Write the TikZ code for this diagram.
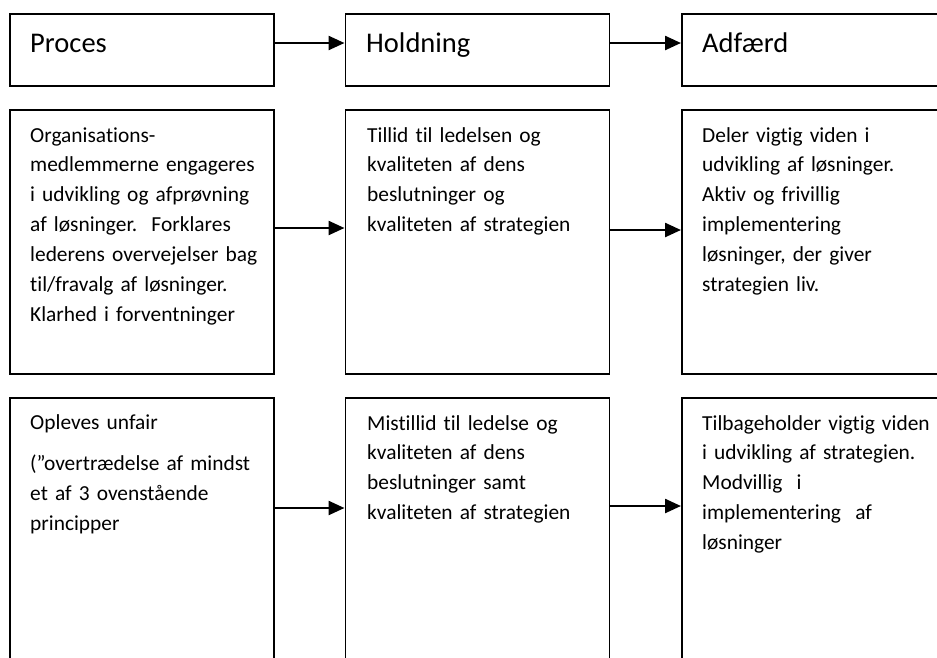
\documentclass[tikz,border=0pt]{standalone}
\usepackage{fontspec}
\setmainfont{Carlito}[Ligatures={NoCommon}, WordSpace=0.85]
\usetikzlibrary{arrows.meta}
\frenchspacing
\tikzset{
  box/.style={draw=black, line width=1.8pt, rectangle, inner sep=0pt, anchor=north west},
  hbox/.style={box, minimum width=264pt, minimum height=72pt},
  bbox/.style={box, minimum width=264pt, minimum height=264pt},
  head/.style={anchor=base west, inner sep=0pt, font=\fontsize{28.5}{34}\selectfont},
  txt/.style={anchor=base west, inner sep=0pt, text width=250pt, align=left,
    font=\fontsize{21.4}{29.9}\selectfont},
  arr/.style={line width=2.4pt, -{Triangle[length=16pt,width=14pt]}}
}
\begin{document}
\begin{tikzpicture}[x=1pt,y=-1pt]
\useasboundingbox (0,0) rectangle (937,657);
\clip (0,0) rectangle (937,657);
% header row
\node[hbox] (p1) at (9,13) {};
\node[hbox] (h1) at (344.5,13) {};
\node[hbox, minimum width=300pt] (a1) at (681,13) {};
\node[head] (p1t) at (30,52.3) {Proces};
\node[head] (h1t) at (366,52.3) {Holdning};
\node[head] (a1t) at (702,52.3) {Adfærd};
% second row
\node[bbox] (p2) at (9,109) {};
\node[bbox] (h2) at (344.5,109) {};
\node[bbox, minimum width=300pt] (a2) at (681,109) {};
\node[txt] (p2t) at (30,142) {Organisations-\\medlemmerne engageres\\i udvikling og afprøvning\\af løsninger.~ Forklares\\lederens overvejelser bag\\til/fravalg af løsninger.\\Klarhed i forventninger};
\node[txt] (h2t) at (367,142) {Tillid til ledelsen og\\kvaliteten af dens\\beslutninger og\\kvaliteten af strategien};
\node[txt, text width=235pt] (a2t) at (702,142) {Deler vigtig viden i\\udvikling af løsninger.\\Aktiv og frivillig\\implementering\\løsninger, der giver\\strategien liv.};
% third row
\node[bbox, minimum height=300pt] (p3) at (9,397) {};
\node[bbox, minimum height=300pt] (h3) at (344.5,397) {};
\node[bbox, minimum width=300pt, minimum height=300pt] (a3) at (681,397) {};
\node[txt] (p3t) at (30,429) {Opleves unfair\\[12pt](”overtrædelse af mindst\\et af 3 ovenstående\\principper};
\node[txt] (h3t) at (367,430) {Mistillid til ledelse og\\kvaliteten af dens\\beslutninger samt\\kvaliteten af strategien};
\node[txt, text width=235pt] (a3t) at (702,430) {Tilbageholder vigtig viden\\i udvikling af strategien.\\Modvillig~ i\\implementering~ af\\løsninger};
% arrows
\draw[arr] (p1.east |- 0,43) -- (h1.west |- 0,43);
\draw[arr] (h1.east |- 0,43) -- (a1.west |- 0,43);
\draw[arr] (p2.east |- 0,228) -- (h2.west |- 0,228);
\draw[arr] (h2.east |- 0,230) -- (a2.west |- 0,230);
\draw[arr] (p3.east |- 0,508) -- (h3.west |- 0,508);
\draw[arr] (h3.east |- 0,506) -- (a3.west |- 0,506);
\end{tikzpicture}
\end{document}
